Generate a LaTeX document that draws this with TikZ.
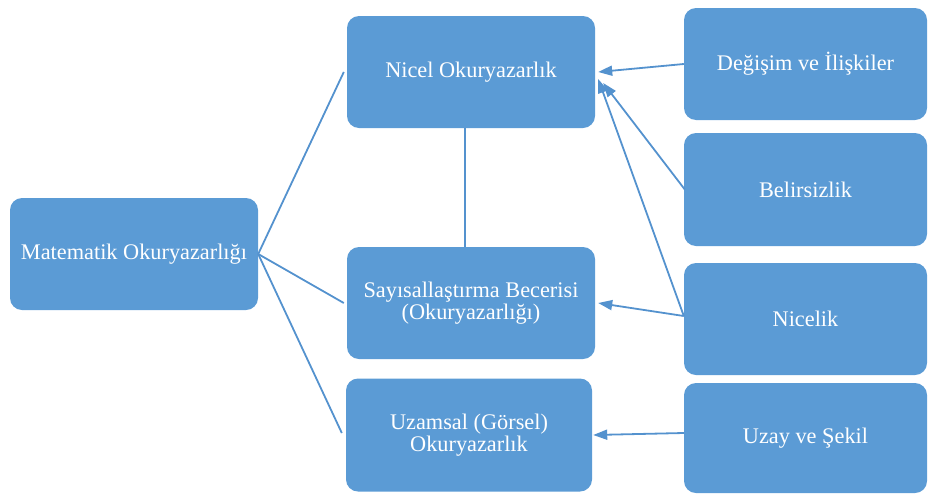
\documentclass[tikz,border=0pt]{standalone}
\usepackage{fontspec}
\setmainfont{Liberation Serif}
\usetikzlibrary{arrows.meta,calc}
\definecolor{kutumavi}{RGB}{91,155,213}
\definecolor{cizgimavi}{RGB}{84,146,206}

\begin{document}
\begin{tikzpicture}[x=1pt,y=-1pt,
    kutu/.style={rectangle,rounded corners=12pt,fill=kutumavi,text=white,align=center,inner sep=0pt,
        font=\fontsize{22.3}{21.5}\selectfont},
    bag/.style={draw=cizgimavi,line width=1.8pt},
    ok/.style={bag,-{Triangle[length=14pt,width=10pt]}}]
    \useasboundingbox (0,0) rectangle (928,493);

    % Ana kavram
    \node[kutu,minimum width=248pt,minimum height=112pt] (mat) at (134,254) {Matematik Okuryazarlığı};

    % Orta sutun
    \node[kutu,minimum width=248pt,minimum height=112pt] (nicel) at (471,72) {Nicel Okuryazarlık};
    \node[kutu,minimum width=248pt,minimum height=112pt] (sayi) at (471,303) {Sayısallaştırma Becerisi\\(Okuryazarlığı)};
    \node[kutu,minimum width=246pt,minimum height=113pt] (uzam) at (469,435) {Uzamsal (Görsel)\\Okuryazarlık};

    % Sag sutun
    \node[kutu,minimum width=243pt,minimum height=112pt] (degis) at (805.5,64) {Değişim ve İlişkiler};
    \node[kutu,minimum width=243pt,minimum height=113pt] (belir) at (805.5,189.5) {Belirsizlik};
    \node[kutu,minimum width=243pt,minimum height=112pt] (nicelik) at (805.5,319) {Nicelik};
    \node[kutu,minimum width=243pt,minimum height=110pt] (uzay) at (805.5,438) {Uzay ve Şekil};

    % Baglantilar
    \draw[bag] (mat.east) -- ($(nicel.west)+(-3,0)$);
    \draw[bag] (mat.east) -- ($(sayi.west)+(-3,0)$);
    \draw[bag] (mat.east) -- ($(uzam.west)+(-4,-2)$);
    \draw[bag] ($(nicel.south)+(-6,0)$) -- ($(sayi.north)+(-6,0)$);

    % Oklar
    \draw[ok] (degis.west) -- ($(nicel.east)+(3,0)$);
    \draw[ok] ($(belir.west)+(1,0)$) -- ($(nicel.east)+(8,11)$);
    \draw[ok] ($(nicelik.west)+(0,-3)$) -- ($(nicel.east)+(3,7)$);
    \draw[ok] ($(nicelik.west)+(0,-3)$) -- ($(sayi.east)+(3,0)$);
    \draw[ok] ($(uzay.west)+(0,-5)$) -- ($(uzam.east)+(1,0)$);
\end{tikzpicture}
\end{document}
